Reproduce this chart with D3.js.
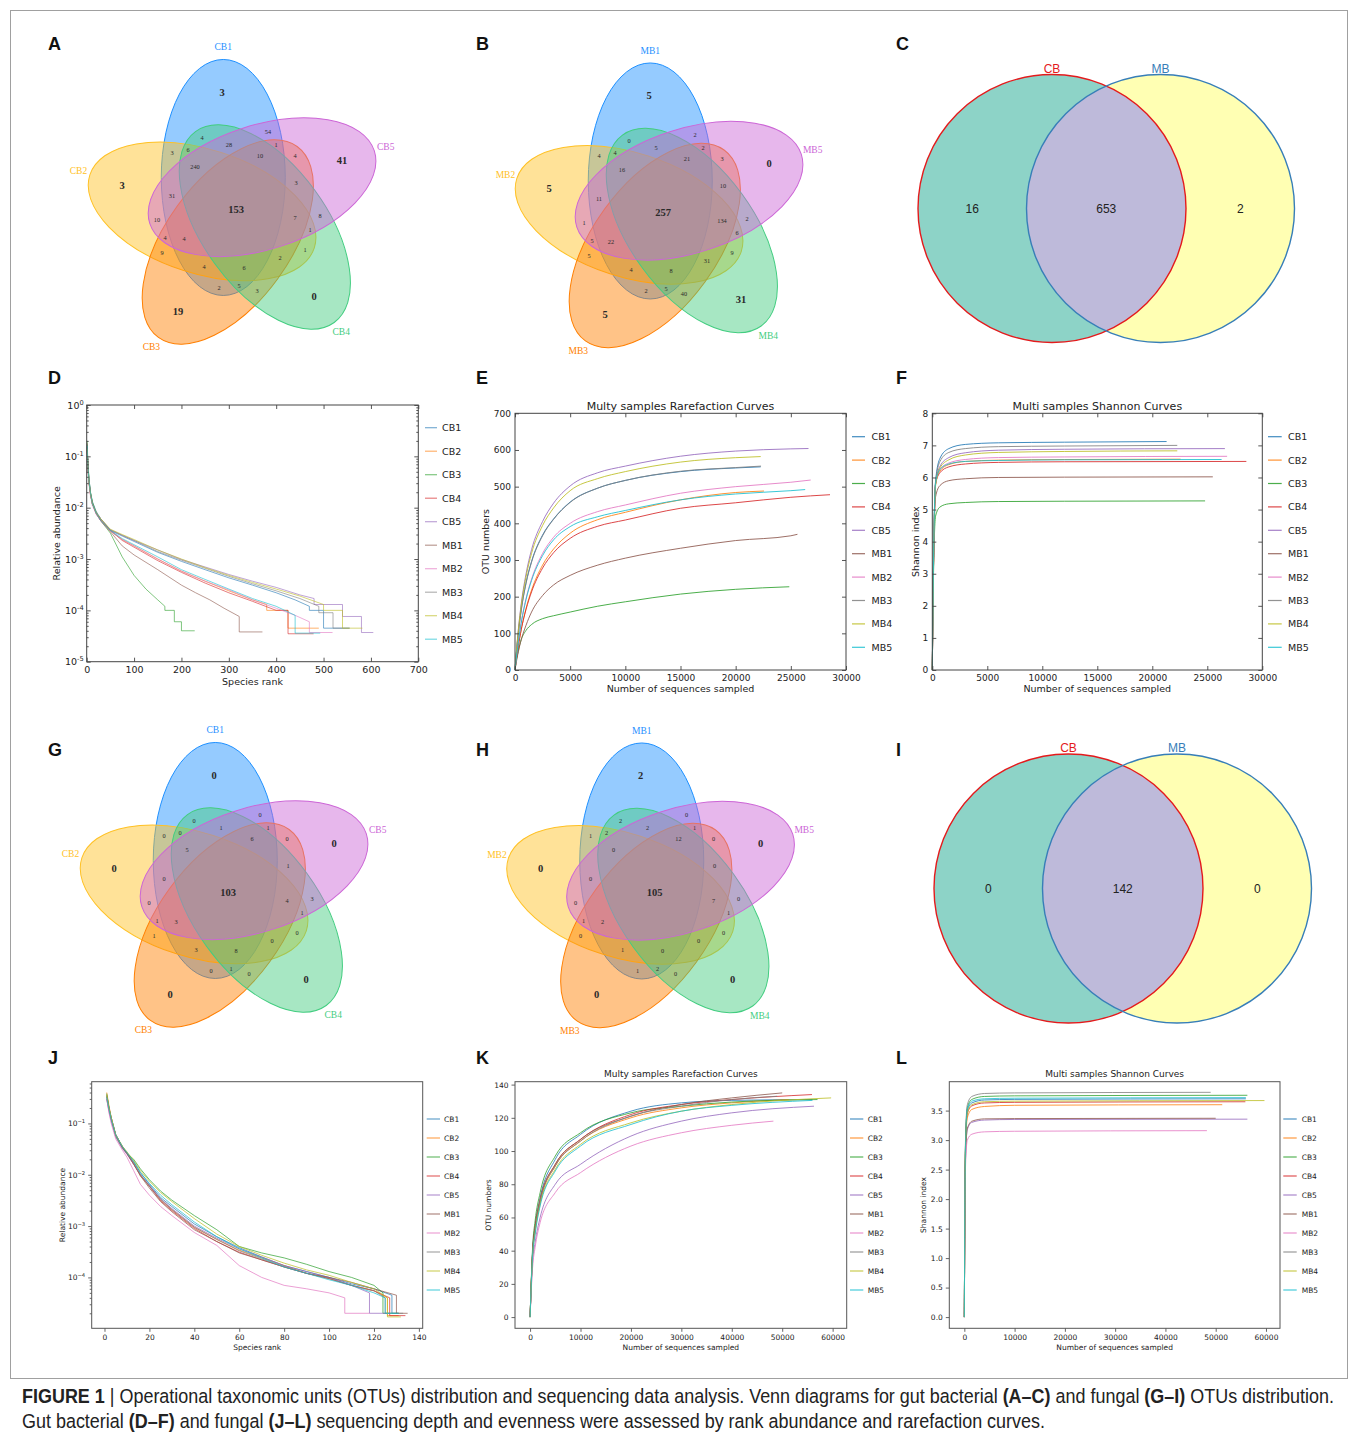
<!DOCTYPE html>
<html><head><meta charset="utf-8">
<script src="https://cdn.jsdelivr.net/npm/d3@7"></script>
<style>body{margin:0;background:#fff}svg{display:block}</style>
</head><body>
<svg id="fig" width="1358" height="1438"></svg>
<script>
// ---------------- DATA ----------------
const samples = ["CB1","CB2","CB3","CB4","CB5","MB1","MB2","MB3","MB4","MB5"];
const lineColors = ["#1f77b4","#ff7f0e","#2ca02c","#d62728","#9467bd","#8c564b","#e377c2","#7f7f7f","#bcbd22","#17becf"];

// 5-set Venn regions (digits = set index, 1..5)
const vennRegions = ["1","2","3","4","5","12","13","14","15","23","24","25","34","35","45",
  "123","124","125","134","135","145","234","235","245","345","1234","1235","1245","1345","2345","12345"];
const vennSetsA = ["CB1","CB2","CB3","CB4","CB5"];
const vennSetsB = ["MB1","MB2","MB3","MB4","MB5"];
const vennValuesA = [3,3,19,0,41, 3,2,4,54,9,1,10,3,4,8, 4,6,31,5,1,28,2,4,1,3, 6,4,240,10,7, 153];
const vennValuesB = [5,5,5,31,0, 4,2,0,2,5,9,1,40,3,2, 4,4,11,5,2,5,31,5,6,10, 8,22,16,21,134, 257];
const vennValuesG = [0,0,0,0,0, 0,0,0,0,1,0,0,0,0,3, 3,0,0,1,1,1,0,1,1,1, 8,3,5,6,4, 103];
const vennValuesH = [2,0,0,0,0, 1,1,2,0,0,0,0,0,0,0, 1,2,0,2,1,2,0,1,1,0, 0,2,0,12,7, 105];
const vennColors = ["#1E90FF","#FFC125","#FF7F00","#43CD80","#CC66D6"];

// 2-set Venn
const groups = ["CB","MB"];
const venn2ValuesC = [16,653,2];
const venn2ValuesI = [0,142,0];

// D: bacterial rank abundance  [rank, relative abundance]
const bacRankAbund = [
 [[1,.17],[2,.09],[3,.06],[5,.035],[8,.02],[12,.013],[20,.0085],[30,.006],[50,.0036],[75,.0028],[100,.0022],[150,.00135],[200,.0009],[250,.00062],[300,.00043],[350,.00031],[400,.00022],[440,.00016],[470,.00012],[470,.0001],[500,.0001],[500,.000045],[555,.000045]],
 [[1,.14],[2,.08],[3,.055],[5,.03],[8,.018],[12,.012],[20,.008],[30,.0058],[50,.0035],[75,.0024],[100,.0018],[150,.001],[200,.00058],[250,.00037],[300,.00024],[350,.00016],[380,.00013],[380,.0001],[425,.0001],[425,.000045],[490,.000045]],
 [[1,.2],[2,.1],[3,.065],[5,.035],[8,.02],[12,.013],[20,.008],[30,.0055],[50,.0032],[75,.0011],[100,.00048],[125,.00026],[150,.00016],[165,.00012],[165,.0001],[185,.0001],[185,.00006],[200,.00006],[200,.00004],[228,.00004]],
 [[1,.15],[2,.08],[3,.055],[5,.03],[8,.018],[12,.012],[20,.0075],[30,.0055],[50,.0036],[75,.0023],[100,.0017],[150,.00093],[200,.00055],[250,.00034],[300,.00022],[350,.00015],[400,.0001],[425,.0001],[425,.000035],[479,.000035]],
 [[1,.13],[2,.075],[3,.05],[5,.03],[8,.018],[12,.012],[20,.008],[30,.006],[50,.0037],[75,.0029],[100,.0023],[150,.0015],[200,.00098],[250,.0007],[300,.0005],[350,.00037],[400,.00028],[450,.0002],[480,.00017],[480,.00013],[540,.00013],[540,.000076],[580,.000076],[580,.000037],[605,.000037]],
 [[1,.18],[2,.09],[3,.06],[5,.033],[8,.019],[12,.012],[20,.0078],[30,.0055],[50,.0034],[75,.0018],[100,.0012],[150,.00062],[200,.00031],[230,.00022],[260,.00016],[290,.00011],[322,.000076],[322,.000038],[371,.000038]],
 [[1,.12],[2,.07],[3,.05],[5,.028],[8,.017],[12,.011],[20,.0075],[30,.0055],[50,.0035],[75,.0024],[100,.0018],[150,.001],[200,.00058],[250,.00037],[300,.00025],[350,.00016],[400,.00011],[440,.00008],[470,.00006],[470,.000037],[519,.000037]],
 [[1,.15],[2,.08],[3,.055],[5,.032],[8,.019],[12,.012],[20,.008],[30,.006],[50,.0037],[75,.0029],[100,.0023],[150,.0014],[200,.00095],[250,.00066],[300,.00046],[350,.00033],[400,.00024],[450,.00017],[490,.00012],[490,.00009],[520,.00009],[520,.000045],[555,.000045]],
 [[1,.14],[2,.08],[3,.055],[5,.03],[8,.019],[12,.012],[20,.008],[30,.006],[50,.0038],[75,.003],[100,.0024],[150,.0015],[200,.001],[250,.00068],[300,.00048],[350,.00035],[400,.00026],[450,.00019],[500,.00013],[500,.0001],[540,.0001],[540,.000045],[582,.000045]],
 [[1,.16],[2,.085],[3,.058],[5,.032],[8,.019],[12,.012],[20,.0078],[30,.0056],[50,.0036],[75,.0025],[100,.0019],[150,.0011],[200,.00062],[250,.0004],[300,.00026],[350,.00017],[400,.00012],[440,.00008],[440,.000036],[493,.000036]]
];

// E: bacterial rarefaction [sequences, OTUs]
const bacRarefaction = [
 [[0,0],[100,38],[250,86],[500,150],[1000,238],[1500,296],[2500,368],[3500,412],[5000,458],[7500,496],[10000,517],[15000,541],[20000,551],[22270,554]],
 [[0,0],[100,24],[250,55],[500,100],[1000,168],[1500,218],[2500,286],[3500,330],[5000,373],[7500,410],[10000,430],[15000,464],[20000,484],[22570,488]],
 [[0,0],[100,22],[250,45],[500,77],[1000,108],[1500,124],[2500,140],[3500,148],[5000,158],[7500,174],[10000,186],[15000,207],[20000,220],[24860,227]],
 [[0,0],[100,24],[250,55],[500,100],[1000,165],[1500,213],[2500,278],[3500,320],[5000,359],[7500,392],[10000,409],[15000,441],[20000,456],[25000,471],[28550,478]],
 [[0,0],[100,41],[250,94],[500,165],[1000,262],[1500,328],[2500,405],[3500,455],[5000,502],[7500,538],[10000,556],[15000,583],[20000,597],[25000,603],[26600,604]],
 [[0,0],[100,18],[250,42],[500,75],[1000,122],[1500,158],[2500,203],[3500,232],[5000,258],[7500,286],[10000,305],[15000,332],[20000,353],[25000,366],[25600,370]],
 [[0,0],[100,28],[250,65],[500,118],[1000,195],[1500,248],[2500,318],[3500,362],[5000,400],[7500,432],[10000,450],[15000,482],[20000,500],[25000,512],[26800,518]],
 [[0,0],[100,37],[250,85],[500,148],[1000,236],[1500,294],[2500,366],[3500,411],[5000,457],[7500,496],[10000,517],[15000,542],[20000,552],[22300,556]],
 [[0,0],[100,40],[250,91],[500,160],[1000,254],[1500,318],[2500,394],[3500,442],[5000,489],[7500,522],[10000,541],[15000,567],[20000,579],[22270,582]],
 [[0,0],[100,28],[250,64],[500,116],[1000,192],[1500,244],[2500,312],[3500,355],[5000,391],[7500,418],[10000,435],[15000,464],[20000,480],[25000,489],[26300,492]]
];

// F: bacterial Shannon [sequences, index]
const bacShannon = [
 [[0,0],[100,3.2],[300,5.9],[700,6.6],[1500,6.9],[3000,7.03],[6000,7.08],[12000,7.1],[21300,7.12]],
 [[0,0],[100,3.0],[300,5.8],[700,6.2],[1500,6.4],[3000,6.5],[6000,6.54],[12000,6.56],[22570,6.57]],
 [[0,0],[100,2.8],[300,4.8],[700,5.08],[1500,5.18],[3000,5.22],[6000,5.25],[12000,5.26],[24800,5.27]],
 [[0,0],[100,3.0],[300,5.8],[700,6.15],[1500,6.33],[3000,6.42],[6000,6.47],[12000,6.49],[28550,6.5]],
 [[0,0],[100,3.0],[300,5.8],[700,6.35],[1500,6.62],[3000,6.77],[6000,6.85],[12000,6.88],[26600,6.9]],
 [[0,0],[100,2.9],[300,5.4],[700,5.75],[1500,5.9],[3000,5.96],[6000,6.0],[12000,6.01],[25500,6.02]],
 [[0,0],[100,3.0],[300,5.8],[700,6.25],[1500,6.45],[3000,6.56],[6000,6.62],[12000,6.64],[26800,6.66]],
 [[0,0],[100,3.1],[300,5.85],[700,6.5],[1500,6.78],[3000,6.9],[6000,6.96],[12000,6.98],[22270,7.0]],
 [[0,0],[100,3.0],[300,5.75],[700,6.3],[1500,6.55],[3000,6.7],[6000,6.78],[12000,6.81],[22270,6.83]],
 [[0,0],[100,3.1],[300,5.85],[700,6.25],[1500,6.42],[3000,6.5],[6000,6.53],[12000,6.55],[26300,6.56]]
];

// J: fungal rank abundance
const funRankAbund = [
 [[1,.35],[2,.2],[3,.13],[5,.06],[8,.035],[10,.027],[13,.018],[16,.011],[20,.0065],[25,.0036],[30,.0024],[40,.0011],[50,.00062],[60,.00038],[70,.00025],[80,.00017],[90,.00013],[100,.0001],[110,.000075],[120,.00006],[128,.000045],[128,.00002],[131,.00002]],
 [[1,.4],[2,.22],[3,.13],[5,.06],[8,.034],[10,.026],[13,.017],[16,.0095],[20,.006],[25,.0033],[30,.0021],[40,.00095],[50,.00055],[60,.00034],[70,.00024],[80,.00017],[90,.00012],[100,.000095],[110,.00007],[120,.000055],[126,.00004],[126,.000018],[131,.000018]],
 [[1,.38],[2,.2],[3,.12],[5,.055],[8,.033],[10,.026],[13,.02],[16,.013],[20,.008],[25,.0048],[30,.0032],[40,.0016],[50,.00085],[60,.0004],[70,.0003],[80,.00024],[90,.00018],[100,.00013],[110,.0001],[120,.00007],[124,.00005],[124,.00002],[131,.00002]],
 [[1,.3],[2,.18],[3,.12],[5,.06],[8,.035],[10,.026],[13,.016],[16,.01],[20,.006],[25,.0031],[30,.002],[40,.0009],[50,.0005],[60,.00031],[70,.00022],[80,.00016],[90,.00012],[100,.000095],[110,.00007],[120,.000055],[127,.00004],[127,.000018],[134,.000018]],
 [[1,.3],[2,.17],[3,.11],[5,.055],[8,.032],[10,.025],[13,.016],[16,.01],[20,.0062],[25,.0034],[30,.0022],[40,.001],[50,.00058],[60,.00036],[70,.00025],[80,.00017],[90,.00013],[100,.0001],[110,.00007],[118,.00005],[118,.00002],[127,.00002]],
 [[1,.33],[2,.19],[3,.12],[5,.06],[8,.034],[10,.026],[13,.016],[16,.0095],[20,.0055],[25,.003],[30,.0019],[40,.00085],[50,.0005],[60,.0003],[70,.00022],[80,.00016],[90,.00012],[100,.0001],[110,.00008],[120,.00006],[130,.000045],[130,.00002],[135,.00002]],
 [[1,.3],[2,.16],[3,.1],[5,.05],[8,.03],[10,.022],[13,.012],[16,.0065],[20,.004],[25,.0024],[30,.0016],[40,.00075],[50,.00042],[60,.00017],[70,.0001],[80,.00007],[90,.00006],[100,.00005],[107,.00004],[107,.00002],[118,.00002]],
 [[1,.35],[2,.2],[3,.13],[5,.06],[8,.035],[10,.027],[13,.017],[16,.01],[20,.006],[25,.0033],[30,.0021],[40,.00095],[50,.00055],[60,.00033],[70,.00023],[80,.00016],[90,.00012],[100,.000095],[110,.00007],[120,.000055],[125,.00004],[125,.00002],[133,.00002]],
 [[1,.36],[2,.2],[3,.13],[5,.06],[8,.036],[10,.028],[13,.019],[16,.012],[20,.0075],[25,.0045],[30,.003],[40,.0014],[50,.0007],[60,.0004],[70,.00027],[80,.00019],[90,.00014],[100,.00011],[110,.00008],[120,.00006],[126,.00004],[126,.000017],[132,.000017]],
 [[1,.32],[2,.19],[3,.12],[5,.06],[8,.035],[10,.027],[13,.018],[16,.011],[20,.0068],[25,.004],[30,.0026],[40,.0012],[50,.00062],[60,.00036],[70,.00024],[80,.00016],[90,.00012],[100,.00009],[110,.00007],[120,.00005],[125,.00004],[125,.00002],[131,.00002]]
];

// K: fungal rarefaction
const funRarefaction = [
 [[0,0],[500,40],[1000,55],[2000,72],[5000,95],[10000,110],[20000,124],[30000,129],[40000,130.5],[56000,131]],
 [[0,0],[500,38],[1000,52],[2000,69],[5000,91],[10000,106],[20000,120],[30000,126],[40000,129],[51300,131]],
 [[0,0],[500,42],[1000,58],[2000,75],[5000,97],[10000,111],[20000,123],[30000,127],[40000,129.5],[57000,131]],
 [[0,0],[500,39],[1000,54],[2000,71],[5000,92],[10000,107],[20000,122],[30000,128],[40000,131],[55900,134]],
 [[0,0],[500,33],[1000,45],[2000,60],[5000,80],[10000,92],[20000,109],[30000,118],[40000,123],[56300,127]],
 [[0,0],[500,39],[1000,53],[2000,70],[5000,92],[10000,107],[20000,121],[30000,128],[40000,132],[50000,135]],
 [[0,0],[500,30],[1000,42],[2000,57],[5000,75],[10000,87],[20000,103],[30000,111],[40000,115.5],[48250,118]],
 [[0,0],[500,38],[1000,52],[2000,70],[5000,91],[10000,106],[20000,121],[30000,127],[40000,131],[49000,133]],
 [[0,0],[500,37],[1000,51],[2000,68],[5000,89],[10000,104],[20000,117],[30000,124],[40000,128],[59700,132]],
 [[0,0],[500,37],[1000,50],[2000,67],[5000,88],[10000,103],[20000,116],[30000,124],[40000,127.5],[56000,130.5]]
];

// L: fungal Shannon
const funShannon = [
 [[0,0],[150,2.4],[300,3.1],[600,3.5],[1500,3.63],[4000,3.68],[10000,3.69],[56000,3.70]],
 [[0,0],[150,2.3],[300,3.0],[600,3.38],[1500,3.52],[4000,3.57],[10000,3.59],[51300,3.60]],
 [[0,0],[150,2.4],[300,3.15],[600,3.55],[1500,3.69],[4000,3.74],[10000,3.75],[56300,3.76]],
 [[0,0],[150,2.35],[300,3.05],[600,3.45],[1500,3.58],[4000,3.63],[10000,3.64],[55900,3.65]],
 [[0,0],[150,2.2],[300,2.85],[600,3.18],[1500,3.3],[4000,3.34],[10000,3.35],[56300,3.355]],
 [[0,0],[150,2.2],[300,2.85],[600,3.2],[1500,3.32],[4000,3.36],[10000,3.365],[50000,3.37]],
 [[0,0],[150,2.1],[300,2.7],[600,3.0],[1500,3.1],[4000,3.14],[10000,3.15],[48250,3.16]],
 [[0,0],[150,2.45],[300,3.2],[600,3.6],[1500,3.74],[4000,3.79],[10000,3.80],[49000,3.81]],
 [[0,0],[150,2.35],[300,3.05],[600,3.46],[1500,3.6],[4000,3.65],[10000,3.66],[59700,3.67]],
 [[0,0],[150,2.4],[300,3.1],[600,3.52],[1500,3.66],[4000,3.7],[10000,3.71],[56000,3.72]]
];

// tick values
const rankTicksD = [0,100,200,300,400,500,600,700];
const rankTicksJ = [0,20,40,60,80,100,120,140];
const seqTicks30k = [0,5000,10000,15000,20000,25000,30000];
const seqTicks60k = [0,10000,20000,30000,40000,50000,60000];
const otuTicksE = [0,100,200,300,400,500,600,700];
const shannonTicksF = [0,1,2,3,4,5,6,7,8];
const otuTicksK = [0,20,40,60,80,100,120,140];
const shannonTicksL = [0,0.5,1,1.5,2,2.5,3,3.5];

// ---------------- DRAWING ----------------
const svg = d3.select("#fig");
svg.append("rect").attr("x",0).attr("y",0).attr("width",1358).attr("height",1438).attr("fill","#fff");
svg.append("rect").attr("x",10.5).attr("y",10.5).attr("width",1337).attr("height",1368)
   .attr("fill","none").attr("stroke","#a0a0a0").attr("stroke-width",1);

const SERIF = "'Liberation Serif','DejaVu Serif',serif";
const SANS = "'DejaVu Sans',sans-serif";
const ARIAL = "'Liberation Sans',Arial,sans-serif";

function venn5(cx, cy, names, values) {
  const g = svg.append("g");
  const rx = 62, ry = 118, off = 34;
  const ells = names.map((n, j) => {
    const rot = -72 * j;
    const a = (-112 - 72 * j) * Math.PI / 180;
    return {name: n, j, rot, ex: cx + off * Math.cos(a), ey: cy + off * Math.sin(a), color: vennColors[j]};
  });
  ells.forEach(e => {
    g.append("ellipse").attr("rx", rx).attr("ry", ry)
      .attr("transform", `translate(${e.ex},${e.ey}) rotate(${e.rot})`)
      .attr("fill", e.color).attr("fill-opacity", 0.47)
      .attr("stroke", e.color).attr("stroke-width", 1);
  });
  ells.forEach(e => {
    const a = e.rot * Math.PI / 180, d = ry + 12;
    g.append("text").attr("x", e.ex + d * Math.sin(a)).attr("y", e.ey - d * Math.cos(a))
      .attr("text-anchor","middle").attr("dominant-baseline","central")
      .attr("font-family", SERIF).attr("font-size", 9.5).attr("fill", e.color).text(e.name);
  });
  // region label placement: pole of inaccessibility on a grid
  const W = 381, H = 361, x0 = cx - 190, y0 = cy - 180;
  const pre = ells.map(e => ({ex:e.ex, ey:e.ey, c:Math.cos(e.rot*Math.PI/180), s:Math.sin(e.rot*Math.PI/180)}));
  const sig = new Uint8Array(W*H);
  for (let j=0;j<H;j++) for (let i=0;i<W;i++) {
    const px = x0+i, py = y0+j; let m = 0;
    for (let k=0;k<5;k++){ const e=pre[k]; const dx=px-e.ex, dy=py-e.ey;
      const lx=dx*e.c+dy*e.s, ly=-dx*e.s+dy*e.c;
      if ((lx/rx)*(lx/rx)+(ly/ry)*(ly/ry) <= 1) m |= (1<<k); }
    sig[j*W+i] = m;
  }
  const D = new Float32Array(W*H);
  for (let j=0;j<H;j++) for (let i=0;i<W;i++) {
    const idx=j*W+i, s=sig[idx];
    const b = i==0||j==0||i==W-1||j==H-1||sig[idx-1]!=s||sig[idx+1]!=s||sig[idx-W]!=s||sig[idx+W]!=s;
    D[idx] = b ? 0 : 1e9;
  }
  const r2 = Math.SQRT2;
  for (let j=1;j<H-1;j++) for (let i=1;i<W-1;i++){ const idx=j*W+i;
    D[idx]=Math.min(D[idx],D[idx-1]+1,D[idx-W]+1,D[idx-W-1]+r2,D[idx-W+1]+r2); }
  for (let j=H-2;j>0;j--) for (let i=W-2;i>0;i--){ const idx=j*W+i;
    D[idx]=Math.min(D[idx],D[idx+1]+1,D[idx+W]+1,D[idx+W+1]+r2,D[idx+W-1]+r2); }
  const best = {};
  for (let idx=0; idx<W*H; idx++){ const s=sig[idx]; if(!s) continue;
    if(!best[s] || D[idx] > best[s].d) best[s] = {d:D[idx], x:x0+idx%W, y:y0+Math.floor(idx/W)}; }
  vennRegions.forEach((key, ri) => {
    let m = 0; for (const ch of key) m |= 1 << (+ch - 1);
    const p = best[m]; if (!p) return;
    const n = key.length, big = (n === 1 || n === 5);
    const fs = big ? 10.5 : (p.d < 3.5 ? 3.5 : 6.3);
    g.append("text").attr("x", p.x).attr("y", p.y).attr("text-anchor","middle").attr("dominant-baseline","central")
      .attr("font-family", SERIF).attr("font-size", fs).attr("font-weight", big ? "bold" : "normal")
      .attr("fill","#2a2a2a").text(values[ri]);
  });
}

function venn2(cx1, cx2, cy, r, names, vals) {
  const g = svg.append("g");
  const id = "clip" + Math.round(cy);
  svg.append("defs").append("clipPath").attr("id", id).append("circle").attr("cx", cx1).attr("cy", cy).attr("r", r);
  g.append("circle").attr("cx",cx1).attr("cy",cy).attr("r",r).attr("fill","#8dd3c7");
  g.append("circle").attr("cx",cx2).attr("cy",cy).attr("r",r).attr("fill","#ffffb3");
  g.append("circle").attr("cx",cx2).attr("cy",cy).attr("r",r).attr("fill","#bebada").attr("clip-path",`url(#${id})`);
  g.append("circle").attr("cx",cx1).attr("cy",cy).attr("r",r).attr("fill","none").attr("stroke","#e41a1c").attr("stroke-width",1.4);
  g.append("circle").attr("cx",cx2).attr("cy",cy).attr("r",r).attr("fill","none").attr("stroke","#377eb8").attr("stroke-width",1.4);
  const cols = ["#e41a1c","#377eb8"];
  [cx1, cx2].forEach((c, i) => g.append("text").attr("x", c).attr("y", cy - r - 2).attr("text-anchor","middle")
     .attr("font-family", ARIAL).attr("font-size", 12).attr("fill", cols[i]).text(names[i]));
  const xs = [((cx1-r)+(cx2-r))/2, ((cx2-r)+(cx1+r))/2, ((cx1+r)+(cx2+r))/2];
  xs.forEach((x, i) => g.append("text").attr("x", x).attr("y", cy).attr("text-anchor","middle").attr("dominant-baseline","central")
     .attr("font-family", ARIAL).attr("font-size", 12).attr("fill","#222").text(vals[i]));
}

function linePanel(o) {
  const g = svg.append("g");
  const x = d3.scaleLinear().domain(o.xDomain).range([o.l, o.r]);
  const y = (o.yLog ? d3.scaleLog() : d3.scaleLinear()).domain(o.yDomain).range([o.b, o.t]);
  const tin = o.classic ? -4 : 3.5, tmin = o.classic ? -2 : 2;
  const ac = o.axisColor;
  const st = sel => { sel.select(".domain").remove();
    sel.selectAll(".tick line").attr("stroke", ac).attr("stroke-width", 0.9);
    sel.selectAll(".tick text").attr("font-family", SANS).attr("font-size", o.tickFont).attr("fill","#222"); };
  const line = d3.line().x(d => x(d[0])).y(d => y(d[1])).curve(o.curve);
  o.series.forEach((s, i) => g.append("path").attr("d", line(s)).attr("fill","none")
     .attr("stroke", lineColors[i]).attr("stroke-opacity", o.opacity).attr("stroke-width", 1));
  g.append("g").attr("transform",`translate(0,${o.b})`)
    .call(d3.axisBottom(x).tickValues(o.xTicks).tickSizeInner(tin).tickSizeOuter(0).tickPadding(o.pad).tickFormat(d3.format("d"))).call(st);
  const yMajor = o.yTicks;
  const yAx = d3.axisLeft(y).tickValues(yMajor).tickSizeInner(tin).tickSizeOuter(0).tickPadding(o.ypad || o.pad)
     .tickFormat(o.yLog ? () => "" : o.yFmt);
  const yg = g.append("g").attr("transform",`translate(${o.l},0)`).call(yAx).call(st);
  if (o.yLog) {
    yg.selectAll(".tick text").each(function(d){
      const t = d3.select(this); const e = Math.round(Math.log10(d));
      t.text("10"); t.append("tspan").attr("dy","-0.6em").attr("font-size","0.7em").text(o.classic ? String(e) : ("\u2212" + Math.abs(e)));
    });
    const minor = [];
    for (let e = -6; e <= 0; e++) for (let m = 2; m <= 9; m++) { const v = m * Math.pow(10, e); if (v > o.yDomain[0] && v < o.yDomain[1]) minor.push(v); }
    g.append("g").attr("transform",`translate(${o.l},0)`)
      .call(d3.axisLeft(y).tickValues(minor).tickSizeInner(tmin).tickSizeOuter(0).tickFormat("")).call(st);
    if (o.classic) g.append("g").attr("transform",`translate(${o.r},0)`)
      .call(d3.axisRight(y).tickValues(minor).tickSizeInner(tmin).tickSizeOuter(0).tickFormat("")).call(st);
  }
  if (o.classic) {
    g.append("g").attr("transform",`translate(0,${o.t})`)
      .call(d3.axisTop(x).tickValues(o.xTicks).tickSizeInner(tin).tickSizeOuter(0).tickFormat("")).call(st);
    g.append("g").attr("transform",`translate(${o.r},0)`)
      .call(d3.axisRight(y).tickValues(yMajor).tickSizeInner(tin).tickSizeOuter(0).tickFormat("")).call(st);
  }
  g.append("rect").attr("x",o.l).attr("y",o.t).attr("width",o.r-o.l).attr("height",o.b-o.t)
    .attr("fill","none").attr("stroke",ac).attr("stroke-width",1);
  if (o.title) g.append("text").attr("x",(o.l+o.r)/2).attr("y",o.titleY).attr("text-anchor","middle")
     .attr("font-family",SANS).attr("font-size",o.titleFont).attr("fill","#222").text(o.title);
  g.append("text").attr("x",(o.l+o.r)/2).attr("y",o.xlabY).attr("text-anchor","middle")
     .attr("font-family",SANS).attr("font-size",o.labFont).attr("fill","#222").text(o.xlabel);
  g.append("text").attr("transform",`translate(${o.ylabX},${(o.t+o.b)/2}) rotate(-90)`).attr("text-anchor","middle")
     .attr("dominant-baseline","central").attr("font-family",SANS).attr("font-size",o.labFont).attr("fill","#222").text(o.ylabel);
  samples.forEach((s, i) => {
    const yy = o.leg.y0 + i * o.leg.dy;
    g.append("line").attr("x1",o.leg.x1).attr("x2",o.leg.x2).attr("y1",yy).attr("y2",yy)
      .attr("stroke",lineColors[i]).attr("stroke-opacity",o.opacity).attr("stroke-width",1.2);
    g.append("text").attr("x",o.leg.tx).attr("y",yy).attr("dominant-baseline","central")
      .attr("font-family",SANS).attr("font-size",o.legFont).attr("fill","#222").text(s);
  });
}

// Panel letters
const letters = [["A",48,50],["B",476,50],["C",896,50],["D",48,384],["E",476,384],["F",896,384],
                 ["G",48,756],["H",476,756],["I",896,756],["J",48,1064],["K",476,1064],["L",896,1064]];
letters.forEach(([t,x,y]) => svg.append("text").attr("x",x).attr("y",y).attr("font-family",ARIAL)
  .attr("font-weight","bold").attr("font-size",18).attr("fill","#111").text(t));

venn5(236, 209, vennSetsA, vennValuesA);
venn5(663, 212.5, vennSetsB, vennValuesB);
venn5(228, 892, vennSetsA, vennValuesG);
venn5(654.5, 892.5, vennSetsB, vennValuesH);
venn2(1052, 1160.5, 208.5, 134, groups, venn2ValuesC);
venn2(1068.5, 1177, 888.5, 134.5, groups, venn2ValuesI);

linePanel({l:86.7,r:418.3,t:405,b:661.7, xDomain:[0,700], yDomain:[1e-5,1], yLog:true, classic:true,
  xTicks:rankTicksD, yTicks:[1e-5,1e-4,1e-3,1e-2,1e-1,1], series:bacRankAbund, curve:d3.curveLinear,
  opacity:0.6, axisColor:"#444", tickFont:9.5, pad:5, ypad:3, labFont:9.5, xlabel:"Species rank", xlabY:685,
  ylabel:"Relative abundance", ylabX:56, legFont:9.5, leg:{x1:425,x2:437,tx:442,y0:427.7,dy:23.5}});
linePanel({l:515,r:846,t:413.3,b:670, xDomain:[0,30000], yDomain:[0,700], classic:true,
  xTicks:seqTicks30k, yTicks:otuTicksE, yFmt:d3.format("d"), series:bacRarefaction, curve:d3.curveMonotoneX,
  opacity:0.85, axisColor:"#444", tickFont:9, pad:5, ypad:4, labFont:9.5, xlabel:"Number of sequences sampled", xlabY:692,
  ylabel:"OTU numbers", ylabX:485.5, title:"Multy samples Rarefaction Curves", titleY:410, titleFont:11,
  legFont:9.5, leg:{x1:852,x2:865,tx:871.5,y0:436.7,dy:23.4}});
linePanel({l:932.3,r:1262.3,t:413.3,b:670, xDomain:[0,30000], yDomain:[0,8], classic:true,
  xTicks:seqTicks30k, yTicks:shannonTicksF, yFmt:d3.format("d"), series:bacShannon, curve:d3.curveMonotoneX,
  opacity:0.85, axisColor:"#444", tickFont:9, pad:5, ypad:4, labFont:9.5, xlabel:"Number of sequences sampled", xlabY:692,
  ylabel:"Shannon index", ylabX:915, title:"Multi samples Shannon Curves", titleY:410, titleFont:11,
  legFont:9.5, leg:{x1:1268,x2:1281.7,tx:1288,y0:436.7,dy:23.4}});
linePanel({l:91.7,r:422.7,t:1081.7,b:1328.3, xDomain:[-5.7,141.7], yDomain:[1.02e-5,0.65], yLog:true, classic:false,
  xTicks:rankTicksJ, yTicks:[1e-4,1e-3,1e-2,1e-1], series:funRankAbund, curve:d3.curveLinear,
  opacity:0.7, axisColor:"#555", tickFont:7.5, pad:3, labFont:7.5, xlabel:"Species rank", xlabY:1350,
  ylabel:"Relative abundance", ylabX:62, legFont:7.5, leg:{x1:426.7,x2:440,tx:444,y0:1119,dy:19}});
linePanel({l:515,r:846.7,t:1081.7,b:1328.3, xDomain:[-2990,62790], yDomain:[-6.75,141.75], classic:false,
  xTicks:seqTicks60k, yTicks:otuTicksK, yFmt:d3.format("d"), series:funRarefaction, curve:d3.curveMonotoneX,
  opacity:0.8, axisColor:"#555", tickFont:7.5, pad:3, labFont:7.5, xlabel:"Number of sequences sampled", xlabY:1350,
  ylabel:"OTU numbers", ylabX:488, title:"Multy samples Rarefaction Curves", titleY:1077, titleFont:9,
  legFont:7.5, leg:{x1:850,x2:863.3,tx:867.7,y0:1119,dy:19}});
linePanel({l:949.3,r:1280,t:1081.7,b:1328.3, xDomain:[-2990,62790], yDomain:[-0.19,3.99], classic:false,
  xTicks:seqTicks60k, yTicks:shannonTicksL, yFmt:d3.format(".1f"), series:funShannon, curve:d3.curveMonotoneX,
  opacity:0.8, axisColor:"#555", tickFont:7.5, pad:3, labFont:7.5, xlabel:"Number of sequences sampled", xlabY:1350,
  ylabel:"Shannon index", ylabX:923, title:"Multi samples Shannon Curves", titleY:1077, titleFont:9,
  legFont:7.5, leg:{x1:1283.3,x2:1296.7,tx:1301.7,y0:1119,dy:19}});

// Caption
const capLines = [
  [["FIGURE 1",true],[" | Operational taxonomic units (OTUs) distribution and sequencing data analysis. Venn diagrams for gut bacterial ",false],["(A\u2013C)",true],[" and fungal ",false],["(G\u2013I)",true],[" OTUs distribution.",false]],
  [["Gut bacterial ",false],["(D\u2013F)",true],[" and fungal ",false],["(J\u2013L)",true],[" sequencing depth and evenness were assessed by rank abundance and rarefaction curves.",false]]
];
const capTexts = capLines.map(segs => {
  const t = svg.append("text").attr("font-family","'Liberation Sans',Arial,sans-serif")
    .attr("font-size",19.5).attr("fill","#222");
  segs.forEach(([s,b]) => t.append("tspan").attr("font-weight", b ? "bold" : "normal").text(s));
  return t;
});
const w0 = capTexts[0].node().getComputedTextLength();
const sx = 1313 / w0;
capTexts.forEach((t, i) => t.attr("transform", `translate(22,${1403 + i*25}) scale(${sx},1)`));
</script>
</body></html>
